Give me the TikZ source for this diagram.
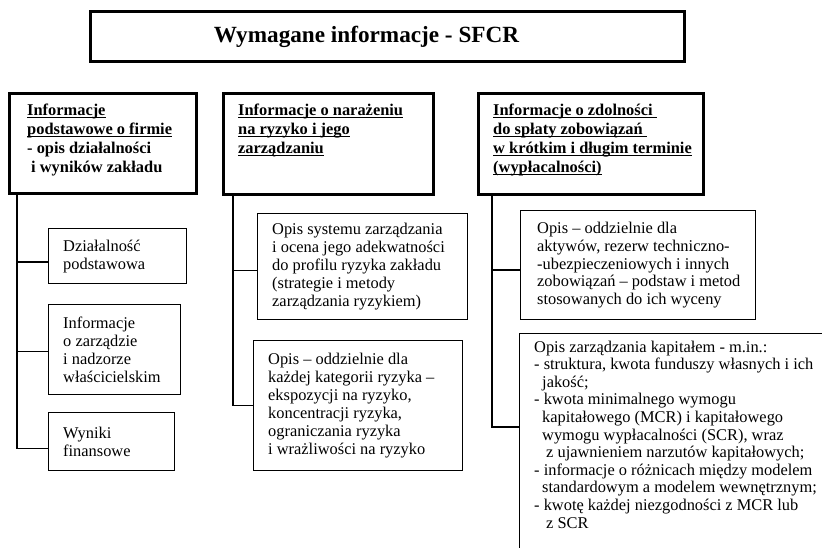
\documentclass[tikz,border=0pt]{standalone}
\usepackage{fontspec}
\setmainfont{Liberation Serif}
\newsavebox\ulbox
\newcommand\uln[1]{\sbox\ulbox{#1}\leavevmode\rlap{\rule[-2.6pt]{\wd\ulbox}{1.1pt}}\usebox\ulbox}
\newcommand\hfnt{\fontsize{16.4pt}{19pt}\selectfont\bfseries}
\newcommand\bfnt{\fontsize{16.4pt}{17.9pt}\selectfont}
\newcommand\rfnt{\fontsize{16.4pt}{17.6pt}\selectfont}
\newcommand\tfnt{\fontsize{23.2pt}{26pt}\selectfont\bfseries}
\tikzset{
  hbox/.style={draw, line width=3pt, anchor=north west, inner sep=0pt},
  lbox/.style={draw, line width=1.2pt, anchor=north west, inner sep=0pt},
  htext/.style={anchor=north west, align=left, inner sep=0pt, font=\hfnt},
  btext/.style={anchor=west, align=left, inner sep=0pt, font=\bfnt},
  ntext/.style={anchor=north west, align=left, inner sep=0pt, font=\rfnt},
  conn/.style={line width=1.4pt},
}
\begin{document}
\begin{tikzpicture}[x=1pt,y=-1pt]
\useasboundingbox (0,0) rectangle (822,548);
\clip (0,0) rectangle (822,548);
% title
\node[hbox, minimum width=594pt, minimum height=50pt] (title) at (89,10) {};
\node[font=\tfnt, inner sep=0pt] (ttl) at ([xshift=-21pt]title.center) {Wymagane informacje - SFCR};
% headers
\node[hbox, minimum width=187pt, minimum height=100pt] (h1) at (8,92) {};
\node[hbox, minimum width=210pt, minimum height=101pt] (h2) at (222,92) {};
\node[hbox, minimum width=225pt, minimum height=101pt] (h3) at (477,92) {};
\node[htext] (h1t) at ([xshift=19pt,yshift=-12pt]h1.north west) {\uln{Informacje}\\\uln{podstawowe o firmie}\\- opis działalności\\\hspace*{4pt}i wyników zakładu};
\node[htext] (h2t) at ([xshift=16pt,yshift=-12pt]h2.north west) {\uln{Informacje o narażeniu}\\\uln{na ryzyko i jego}\\\uln{zarządzaniu}};
\node[htext] (h3t) at ([xshift=16pt,yshift=-12pt]h3.north west) {\uln{Informacje o zdolności\ }\\\uln{do spłaty zobowiązań\ }\\\uln{w krótkim i długim terminie}\\\uln{(wypłacalności)}};
% left column
\node[lbox, minimum width=138pt, minimum height=55pt] (l1) at (48,228) {};
\node[lbox, minimum width=132pt, minimum height=90pt] (l2) at (48,304) {};
\node[lbox, minimum width=126pt, minimum height=58pt] (l3) at (48,412) {};
\node[btext] (l1t) at ([xshift=15pt]l1.west) {Działalność\\podstawowa};
\node[btext] (l2t) at ([xshift=15pt]l2.west) {Informacje\\o zarządzie\\i nadzorze\\właścicielskim};
\node[btext] (l3t) at ([xshift=15pt]l3.west) {Wyniki\\finansowe};
% middle column
\node[lbox, minimum width=210pt, minimum height=106pt] (m1) at (257,213) {};
\node[lbox, minimum width=209pt, minimum height=130pt] (m2) at (253,340) {};
\node[btext] (m1t) at ([xshift=15pt]m1.west) {Opis systemu zarządzania\\i ocena jego adekwatności\\do profilu ryzyka zakładu\\(strategie i metody\\zarządzania ryzykiem)};
\node[btext] (m2t) at ([xshift=15pt]m2.west) {Opis – oddzielnie dla\\każdej kategorii ryzyka –\\ekspozycji na ryzyko,\\koncentracji ryzyka,\\ograniczania ryzyka\\i wrażliwości na ryzyko};
% right column
\node[lbox, minimum width=235pt, minimum height=109pt] (r1) at (520,210) {};
\node[lbox, minimum width=340pt, minimum height=260pt] (r2) at (519,333) {};
\node[btext] (r1t) at ([xshift=17pt]r1.west) {Opis – oddzielnie dla\\aktywów, rezerw techniczno-\\-ubezpieczeniowych i innych\\zobowiązań – podstaw i metod\\stosowanych do ich wyceny};
\node[ntext] (r2t) at ([xshift=15pt,yshift=-7.5pt]r2.north west) {Opis zarządzania kapitałem - m.in.:\\- struktura, kwota funduszy własnych i ich\\\hspace*{8pt}jakość;\\- kwota minimalnego wymogu\\\hspace*{8pt}kapitałowego (MCR) i kapitałowego\\\hspace*{8pt}wymogu wypłacalności (SCR), wraz\\\hspace*{12pt}z ujawnieniem narzutów kapitałowych;\\- informacje o różnicach między modelem\\\hspace*{8pt}standardowym a modelem wewnętrznym;\\- kwotę każdej niezgodności z MCR lub\\\hspace*{12pt}z SCR};
% connectors
\coordinate (v1) at ([xshift=9pt]h1.south west);
\coordinate (v2) at ([xshift=11pt]h2.south west);
\coordinate (v3) at ([xshift=15pt]h3.south west);
\coordinate (b1) at ([yshift=-6pt]l1.west);
\coordinate (b2) at ([yshift=-2pt]l2.west);
\coordinate (b3) at ([yshift=-7pt]l3.west);
\coordinate (c1) at ([yshift=-4pt]m1.west);
\coordinate (c2) at (m2.west);
\coordinate (d1) at ([yshift=-5pt]r1.west);
\coordinate (d2) at ([yshift=-94pt]r2.north west);
\draw[conn] (v1) |- (b3);
\draw[conn] (b1) -- (b1 -| v1);
\draw[conn] (b2) -- (b2 -| v1);
\draw[conn] (v2) |- (c2);
\draw[conn] (c1) -- (c1 -| v2);
\draw[conn] (v3) |- (d2);
\draw[conn] (d1) -- (d1 -| v3);
\end{tikzpicture}
\end{document}
